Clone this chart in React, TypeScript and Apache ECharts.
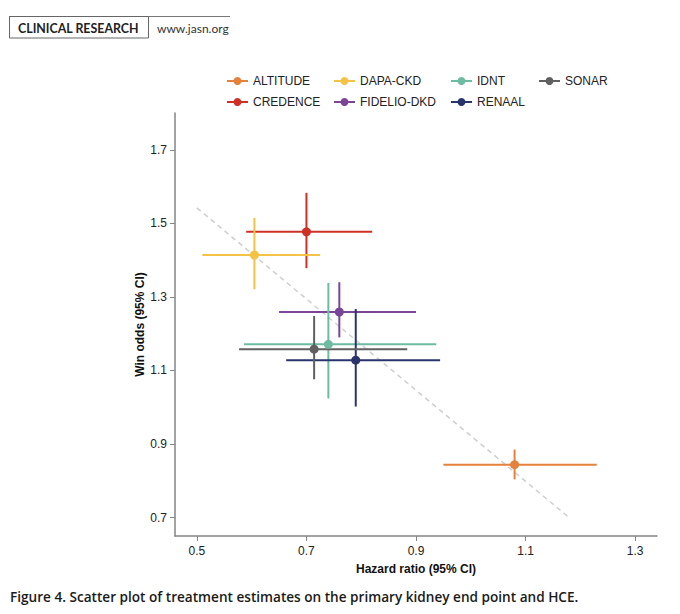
import React, { useEffect, useRef } from "react";
import * as echarts from "echarts";

const studies = ["ALTITUDE", "CREDENCE", "DAPA-CKD", "FIDELIO-DKD", "IDNT", "RENAAL", "SONAR"];
const colors = ["#E5813C", "#CF3026", "#F4C244", "#7A4597", "#6DBBA0", "#28346B", "#606060"];
const hazardRatio = [1.08, 0.70, 0.605, 0.76, 0.74, 0.79, 0.714];
const hazardLo = [0.95, 0.59, 0.51, 0.65, 0.586, 0.663, 0.577];
const hazardHi = [1.23, 0.82, 0.725, 0.90, 0.937, 0.944, 0.884];
const winOdds = [0.844, 1.477, 1.414, 1.259, 1.171, 1.128, 1.158];
const winLo = [0.804, 1.378, 1.321, 1.19, 1.024, 1.002, 1.076];
const winHi = [0.885, 1.583, 1.515, 1.34, 1.338, 1.267, 1.248];
const fitLine = [[0.5, 1.542], [1.182, 0.697]];
const xTicks = [0.5, 0.7, 0.9, 1.1, 1.3];
const yTicks = [0.7, 0.9, 1.1, 1.3, 1.5, 1.7];

const legendCols = [
  { left: 226, names: ["ALTITUDE", "CREDENCE"] },
  { left: 333, names: ["DAPA-CKD", "FIDELIO-DKD"] },
  { left: 450, names: ["IDNT", "RENAAL"] },
  { left: 538, names: ["SONAR"] },
];

export default function App() {
  const ref = useRef<HTMLDivElement>(null);
  useEffect(() => {
    if (!ref.current) return;
    const chart = echarts.init(ref.current, null, { renderer: "svg" });
    const axisColor = "#858585";
    const series: any[] = [];
    series.push({
      type: "line",
      name: "fit",
      data: fitLine,
      showSymbol: false,
      symbol: "none",
      lineStyle: { color: "#cfcfcf", width: 1.5, type: [5, 4] },
      z: 1,
      silent: true,
    });
    studies.forEach((s, i) => {
      series.push({
        type: "custom",
        name: s + "-ci",
        data: [[hazardRatio[i], winOdds[i], hazardLo[i], hazardHi[i], winLo[i], winHi[i]]],
        renderItem: (params: any, api: any) => {
          const y = api.value(1);
          const x = api.value(0);
          const h1 = api.coord([api.value(2), y]);
          const h2 = api.coord([api.value(3), y]);
          const v1 = api.coord([x, api.value(4)]);
          const v2 = api.coord([x, api.value(5)]);
          const style = { stroke: colors[i], lineWidth: 2 };
          return {
            type: "group",
            children: [
              { type: "line", shape: { x1: h1[0], y1: h1[1], x2: h2[0], y2: h2[1] }, style },
              { type: "line", shape: { x1: v1[0], y1: v1[1], x2: v2[0], y2: v2[1] }, style },
            ],
          };
        },
        z: 2,
        silent: true,
      });
      series.push({
        type: "line",
        name: s,
        data: [[hazardRatio[i], winOdds[i]]],
        symbol: "circle",
        symbolSize: 9,
        showSymbol: true,
        itemStyle: { color: colors[i] },
        lineStyle: { color: colors[i], width: 2 },
        z: 3,
      });
    });

    chart.setOption({
      animation: false,
      textStyle: { fontFamily: "Liberation Sans, Arial, sans-serif" },
      grid: { left: 175, top: 113, right: 23, bottom: 78, containLabel: false },
      legend: legendCols.map((c) => ({
        data: c.names,
        orient: "vertical",
        left: c.left,
        top: 74,
        itemWidth: 21,
        itemHeight: 10,
        itemGap: 7,
        padding: 0,
        selectedMode: false,
        textStyle: { fontSize: 12, color: "#222", lineHeight: 14, fontFamily: "Liberation Sans, Arial, sans-serif" },
      })),
      xAxis: {
        type: "value",
        min: 0.46,
        max: 1.34,
        name: "Hazard ratio (95% CI)",
        nameLocation: "middle",
        nameGap: 27,
        nameMoveOverlap: false,
        nameTextStyle: { fontWeight: "bold", fontSize: 12, color: "#111" },
        axisLine: { show: true, lineStyle: { color: axisColor, width: 1.5 } },
        axisTick: { show: true, length: 5, customValues: xTicks, lineStyle: { color: axisColor } },
        axisLabel: { customValues: xTicks, fontSize: 12, color: "#222", margin: 9 },
        splitLine: { show: false },
      },
      yAxis: {
        type: "value",
        min: 0.65,
        max: 1.8,
        name: "Win odds (95% CI)",
        nameLocation: "middle",
        nameGap: 29,
        nameMoveOverlap: false,
        nameTextStyle: { fontWeight: "bold", fontSize: 12, color: "#111" },
        axisLine: { show: true, lineStyle: { color: axisColor, width: 1.5 } },
        axisTick: { show: true, length: 5, customValues: yTicks, lineStyle: { color: axisColor } },
        axisLabel: { customValues: yTicks, fontSize: 12, color: "#222", margin: 8 },
        splitLine: { show: false },
      },
      graphic: [
        { type: "line", shape: { x1: 9, y1: 16.5, x2: 230, y2: 16.5 }, style: { stroke: "#777", lineWidth: 1 } },
        { type: "rect", shape: { x: 9.5, y: 16.5, width: 139, height: 21.5 }, style: { fill: "none", stroke: "#666", lineWidth: 1 } },
        {
          type: "text",
          x: 18,
          y: 28,
          style: { text: "CLINICAL RESEARCH", font: "bold 12.4px Lato, sans-serif", fill: "#222", verticalAlign: "middle" },
        },
        {
          type: "text",
          x: 157,
          y: 28,
          style: { text: "www.jasn.org", font: "12px Lato, sans-serif", fill: "#333", verticalAlign: "middle" },
        },
        {
          type: "text",
          x: 10,
          y: 596,
          style: {
            text: "Figure 4. Scatter plot of treatment estimates on the primary kidney end point and HCE.",
            font: "600 13.6px 'Open Sans', sans-serif",
            fill: "#1a1a1a",
            verticalAlign: "middle",
          },
        },
      ],
      series,
    });
    return () => chart.dispose();
  }, []);
  return <div ref={ref} style={{ position: "absolute", left: 0, top: 0, width: 680, height: 614 }} />;
}
